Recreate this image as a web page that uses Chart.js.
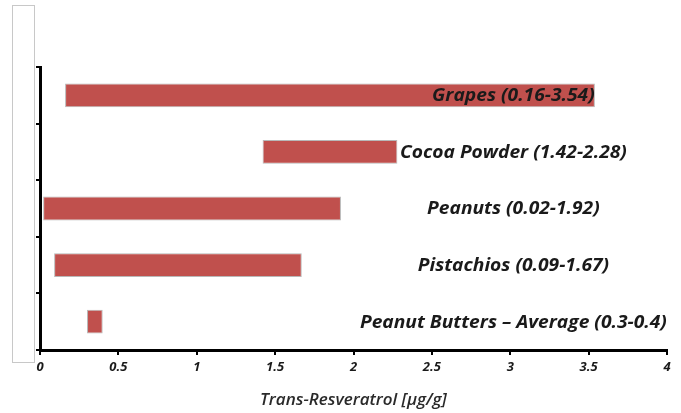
<!DOCTYPE html>
<html>
<head>
<meta charset="utf-8">
<script src="https://cdn.jsdelivr.net/npm/chart.js@4"></script>
<style>
  html, body { margin: 0; padding: 0; background: #fff; }
  #wrap { width: 681px; height: 413px; position: relative; }
</style>
</head>
<body>
<div id="wrap"><canvas id="chart"></canvas></div>
<script>
const foods = ['Grapes', 'Cocoa Powder', 'Peanuts', 'Pistachios', 'Peanut Butters \u2013 Average'];
const lowValues = [0.16, 1.42, 0.02, 0.09, 0.3];
const highValues = [3.54, 2.28, 1.92, 1.67, 0.4];
const rangeText = ['0.16-3.54', '1.42-2.28', '0.02-1.92', '0.09-1.67', '0.3-0.4'];
const xTicks = [0, 0.5, 1, 1.5, 2, 2.5, 3, 3.5, 4];

const fam = '"Open Sans", "DejaVu Sans", sans-serif';
const labelFont = 'italic bold 17px ' + fam;

// empty box on the left, kept from the original figure
const sideBox = {
    id: 'sideBox',
    beforeDraw(chart) {
        const c = chart.ctx;
        c.save();
        c.strokeStyle = '#c8c8c8';
        c.lineWidth = 1;
        c.strokeRect(12.5, 5.5, 22, 357);
        c.restore();
    }
};

// range labels centred around x = 3, a bit wide like the original
const rangeLabels = {
    id: 'rangeLabels',
    afterDatasetsDraw(chart) {
        const c = chart.ctx;
        const x = chart.scales.x.getPixelForValue(3.02);
        foods.forEach((f, i) => {
            const y = chart.scales.y.getPixelForValue(i);
            c.save();
            c.translate(x, y + 1);
            c.scale(1.13, 1);
            c.font = labelFont;
            c.fillStyle = '#1a1a1a';
            c.textAlign = 'center';
            c.textBaseline = 'middle';
            c.fillText(f + ' (' + rangeText[i] + ')', 0, 0);
            c.restore();
        });
    }
};

const ctx = document.getElementById('chart').getContext('2d');
new Chart(ctx, {
    type: 'bar',
    data: {
        labels: foods,
        datasets: [{
            data: foods.map((f, i) => [lowValues[i], highValues[i]]),
            backgroundColor: '#c0504d',
            borderColor: '#b8b8b8',
            borderWidth: 1,
            borderSkipped: false,
            barPercentage: 0.42,
            categoryPercentage: 1
        }]
    },
    options: {
        indexAxis: 'y',
        responsive: true,
        maintainAspectRatio: false,
        animation: false,
        layout: { padding: { top: 67, right: 14, left: 0, bottom: 3 } },
        plugins: {
            legend: { display: false },
            tooltip: { enabled: false }
        },
        scales: {
            x: {
                min: 0,
                max: 4,
                afterBuildTicks(axis) {
                    axis.ticks = xTicks.map(v => ({ value: v }));
                },
                afterFit(axis) { axis.height = 60; },
                border: { color: '#000', width: 3 },
                grid: {
                    drawOnChartArea: false,
                    color: '#000',
                    lineWidth: 2,
                    tickLength: 5
                },
                ticks: {
                    color: '#1a1a1a',
                    padding: 4,
                    maxRotation: 0,
                    callback: v => String(v),
                    font: { family: fam, size: 13, style: 'italic', weight: 'bold' }
                },
                title: {
                    display: true,
                    text: 'Trans-Resveratrol [\u00b5g/g]',
                    color: '#2a2a2a',
                    padding: { top: 8, bottom: 0 },
                    font: { family: fam, size: 17, style: 'italic', weight: '600' }
                }
            },
            y: {
                afterFit(axis) { axis.width = 40; },
                border: { color: '#000', width: 3 },
                grid: {
                    drawOnChartArea: false,
                    offset: true,
                    color: '#000',
                    lineWidth: 2,
                    tickLength: 4
                },
                ticks: { display: false }
            }
        }
    },
    plugins: [sideBox, rangeLabels]
});
</script>
</body>
</html>
